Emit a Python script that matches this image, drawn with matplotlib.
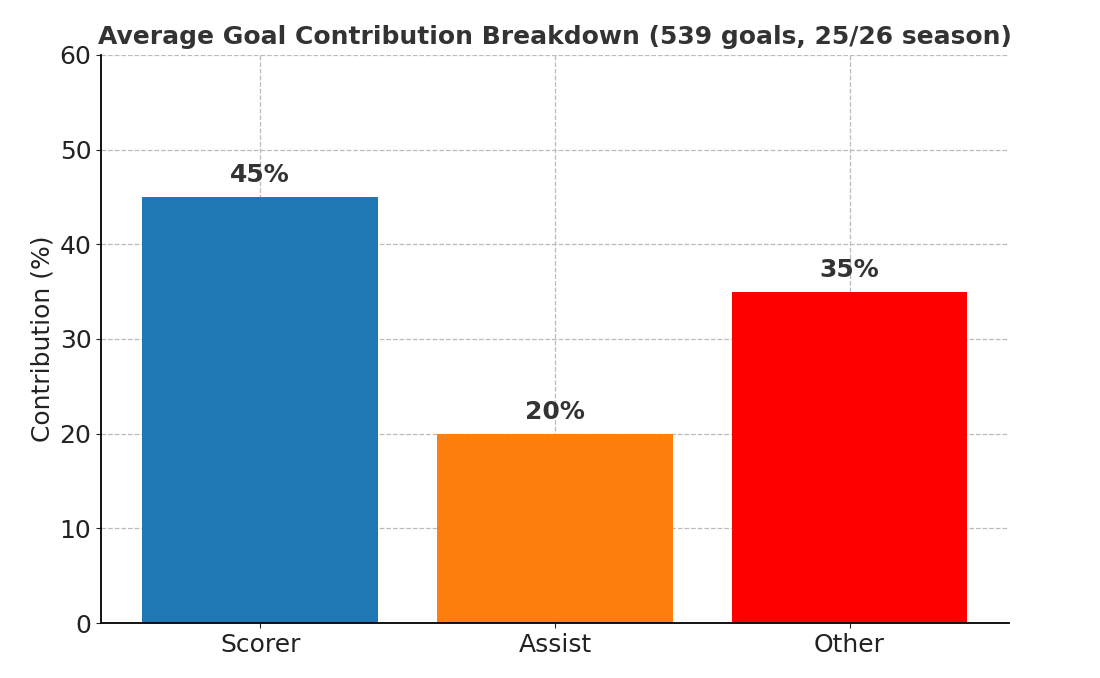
import matplotlib
matplotlib.use("Agg")
import matplotlib.pyplot as plt

categories = ["Scorer", "Assist", "Other"]
values = [45, 20, 35]
colors = ["#1f77b4", "#ff7f0e", "#ff0000"]

fig = plt.figure(figsize=(11, 6.78), dpi=100)
ax = fig.add_axes([0.092, 0.081, 0.825, 0.838])
bars = ax.bar(categories, values, color=colors, width=0.8, zorder=2)
ax.set_ylim(0, 60)
ax.set_yticks(range(0, 61, 10))
ax.grid(True, linestyle="--", color="#bbbbbb", linewidth=0.9, zorder=0)
ax.spines["top"].set_visible(False)
ax.spines["right"].set_visible(False)
ax.spines["left"].set_linewidth(1.3)
ax.spines["bottom"].set_linewidth(1.3)
ax.tick_params(labelsize=18, colors="#222222")
ax.set_ylabel("Contribution (%)", fontsize=18, color="#222222")
ax.set_title("Average Goal Contribution Breakdown (539 goals, 25/26 season)",
             fontsize=18, fontweight="bold", color="#333333", pad=8)
for b, v in zip(bars, values):
    ax.text(b.get_x() + b.get_width() / 2, v + 1, f"{v}%", ha="center", va="bottom",
            fontsize=18, fontweight="bold", color="#333333")
fig.savefig("out.png", dpi=100)
